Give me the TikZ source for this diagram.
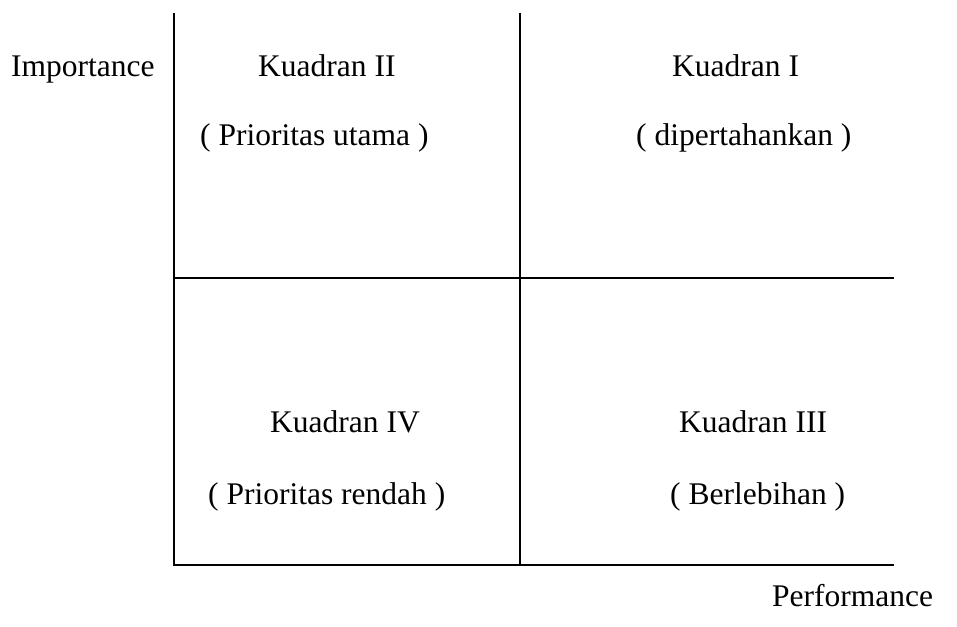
\documentclass[tikz,border=0pt]{standalone}
\usepackage{fontspec}
\setmainfont{Liberation Serif}
\begin{document}
\begin{tikzpicture}[x=1pt,y=-1pt,
  axis/.style={line width=1.6pt,black},
  lbl/.style={inner sep=0pt,anchor=base west,font=\fontsize{31.5}{38}\selectfont}]
\useasboundingbox (0,0) rectangle (957,626);
% grid corners
\coordinate (tl) at (174,13);
\coordinate (tm) at (520,13);
\coordinate (ml) at (174,278);
\coordinate (mm) at (520,278);
\coordinate (mr) at (894,278);
\coordinate (bl) at (174,565);
\coordinate (bm) at (520,565);
\coordinate (br) at (894,565);
\draw[axis] (tl) -- (bl) -- (br);
\draw[axis] (tm) -- (bm);
\draw[axis] (ml) -- (mr);
% labels
\node[lbl] (imp) at (11,76) {Importance};
\node[lbl] (k2) at (258,76) {Kuadran II};
\node[lbl] (p2) at (200,145) {( Prioritas utama )};
\node[lbl] (k1) at (672,76) {Kuadran I};
\node[lbl] (p1) at (636,145) {( dipertahankan )};
\node[lbl] (k4) at (270,432) {Kuadran IV};
\node[lbl] (p4) at (208,504) {( Prioritas rendah )};
\node[lbl] (k3) at (679,432) {Kuadran III};
\node[lbl] (p3) at (670,504) {( Berlebihan )};
\node[lbl] (perf) at (772,606) {Performance};
\end{tikzpicture}
\end{document}
